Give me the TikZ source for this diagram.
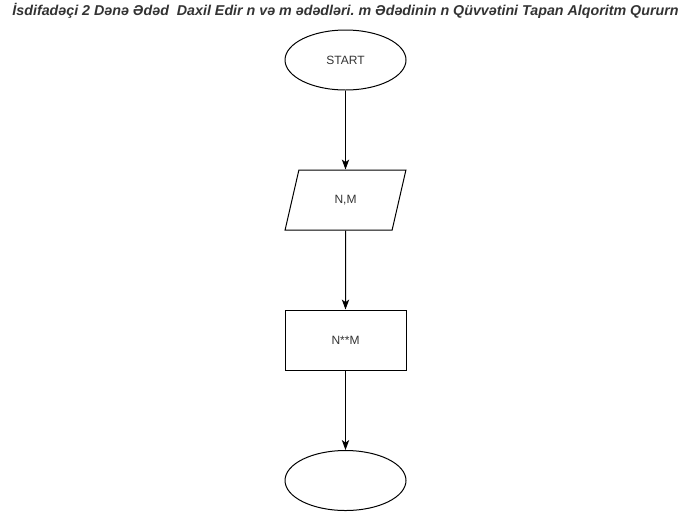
\documentclass[tikz,border=0pt]{standalone}
\usepackage{fontspec}
\setmainfont{Liberation Sans}
\usetikzlibrary{shapes.geometric,arrows.meta}
\definecolor{txt}{HTML}{333333}
\frenchspacing
\begin{document}
\begin{tikzpicture}[x=0.75pt,y=-0.75pt,
  box/.style={draw=black,line width=0.75pt,minimum width=90.75pt,minimum height=45pt,inner sep=0pt,text=txt,font=\fontsize{9}{11}\selectfont},
  oval/.style={box,ellipse},
  para/.style={box,trapezium,trapezium left angle=71.6,trapezium right angle=108.4,trapezium stretches=true},
  flow/.style={draw=black,line width=0.75pt,-{Stealth[length=7.5pt,width=5.5pt,inset=2pt]}}]
\useasboundingbox (0,0) rectangle (691,511);
\node[font=\fontsize{10.7}{12}\selectfont\bfseries\itshape,text=txt,anchor=center,inner sep=0pt] (title) at (345.5,11) {İsdifadəçi 2 Dənə Ədəd\ \ Daxil Edir n və m ədədləri. m Ədədinin n Qüvvətini Tapan Alqoritm Qururn};
\node[oval] (start) at (345.5,60) {START};
\node[para] (in) at (345.5,200) {N,M};
\node[box] (calc) at (345.5,340) {N**M};
\node[oval] (end) at (345.5,480.5) {};
\draw[flow] (start) -- (in);
\draw[flow] (in) -- (calc);
\draw[flow] (calc) -- (end);
\end{tikzpicture}
\end{document}
